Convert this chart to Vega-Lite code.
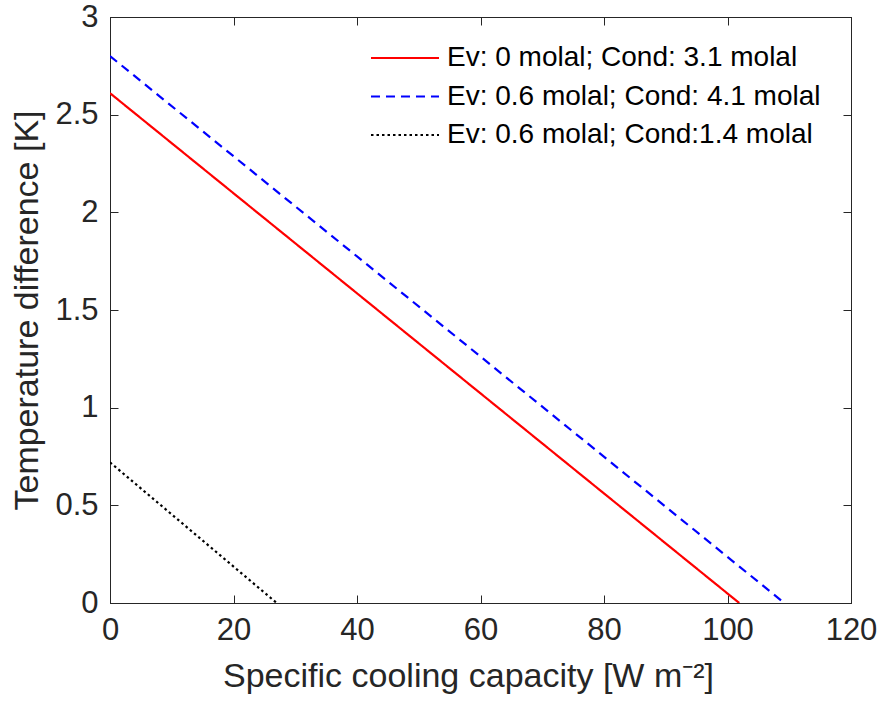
{
  "$schema": "https://vega.github.io/schema/vega-lite/v6.json",
  "width": 741,
  "height": 586,
  "autosize": "none",
  "padding": {"left": 110, "top": 17, "right": 32, "bottom": 110},
  "background": "white",
  "config": {
    "font": "Liberation Sans",
    "view": {"stroke": "#262626", "strokeWidth": 1},
    "axis": {"grid": false, "domainColor": "#262626", "tickColor": "#262626", "labelColor": "#262626", "titleColor": "#262626", "labelFont": "Liberation Sans", "titleFont": "Liberation Sans", "titleFontWeight": "normal", "labelFontSize": 31, "titleFontSize": 34, "tickSize": -8, "labelPadding": 20, "labelFlush": false, "labelOverlap": false, "format": "~r"},
    "legend": {"labelFont": "Liberation Sans", "labelFontSize": 28, "labelColor": "#000000", "labelLimit": 0}
  },
  "data": {
    "values": [
      {"series": "Ev: 0 molal; Cond: 3.1 molal", "x": 0, "y": 2.61},
      {"series": "Ev: 0 molal; Cond: 3.1 molal", "x": 101.9, "y": 0},
      {"series": "Ev: 0.6 molal; Cond: 4.1 molal", "x": 0, "y": 2.8},
      {"series": "Ev: 0.6 molal; Cond: 4.1 molal", "x": 109.2, "y": 0},
      {"series": "Ev: 0.6 molal; Cond:1.4 molal", "x": 0, "y": 0.72},
      {"series": "Ev: 0.6 molal; Cond:1.4 molal", "x": 27.0, "y": 0}
    ]
  },
  "layer": [
    {
      "mark": {"type": "line", "strokeWidth": 2.2, "clip": true},
      "encoding": {
        "x": {"field": "x", "type": "quantitative", "scale": {"domain": [0, 120], "nice": false},
              "axis": {"orient": "bottom", "values": [0, 20, 40, 60, 80, 100, 120], "title": "Specific cooling capacity [W m⁻²]", "titlePadding": 14, "titleX": 358}},
        "y": {"field": "y", "type": "quantitative", "scale": {"domain": [0, 3], "nice": false},
              "axis": {"orient": "left", "values": [0, 0.5, 1, 1.5, 2, 2.5, 3], "title": "Temperature difference [K]", "titlePadding": 10}},
        "color": {"field": "series", "type": "nominal",
                  "scale": {"domain": ["Ev: 0 molal; Cond: 3.1 molal", "Ev: 0.6 molal; Cond: 4.1 molal", "Ev: 0.6 molal; Cond:1.4 molal"], "range": ["#ff0000", "#0000ff", "#000000"]},
                  "legend": {"title": null, "orient": "none", "legendX": 281, "legendY": 27, "symbolType": "M-3,0H3", "symbolSize": 514, "symbolStrokeWidth": 2.2, "labelOffset": 28, "rowPadding": 10.5}},
        "strokeDash": {"field": "series", "type": "nominal",
                  "scale": {"domain": ["Ev: 0 molal; Cond: 3.1 molal", "Ev: 0.6 molal; Cond: 4.1 molal", "Ev: 0.6 molal; Cond:1.4 molal"], "range": [[1, 0], [9, 6], [2.5, 3]]},
                  "legend": {"title": null, "orient": "none", "legendX": 281, "legendY": 27, "symbolType": "M-3,0H3", "symbolSize": 514, "symbolStrokeWidth": 2.2, "labelOffset": 28, "rowPadding": 10.5}}
      }
    },
    {
      "mark": {"type": "line", "opacity": 0},
      "encoding": {
        "x": {"field": "x", "type": "quantitative", "axis": {"orient": "top", "values": [0, 20, 40, 60, 80, 100, 120], "labels": false, "title": null}},
        "y": {"field": "y", "type": "quantitative", "axis": {"orient": "right", "values": [0, 0.5, 1, 1.5, 2, 2.5, 3], "labels": false, "title": null}}
      }
    }
  ],
  "resolve": {"axis": {"x": "independent", "y": "independent"}}
}
